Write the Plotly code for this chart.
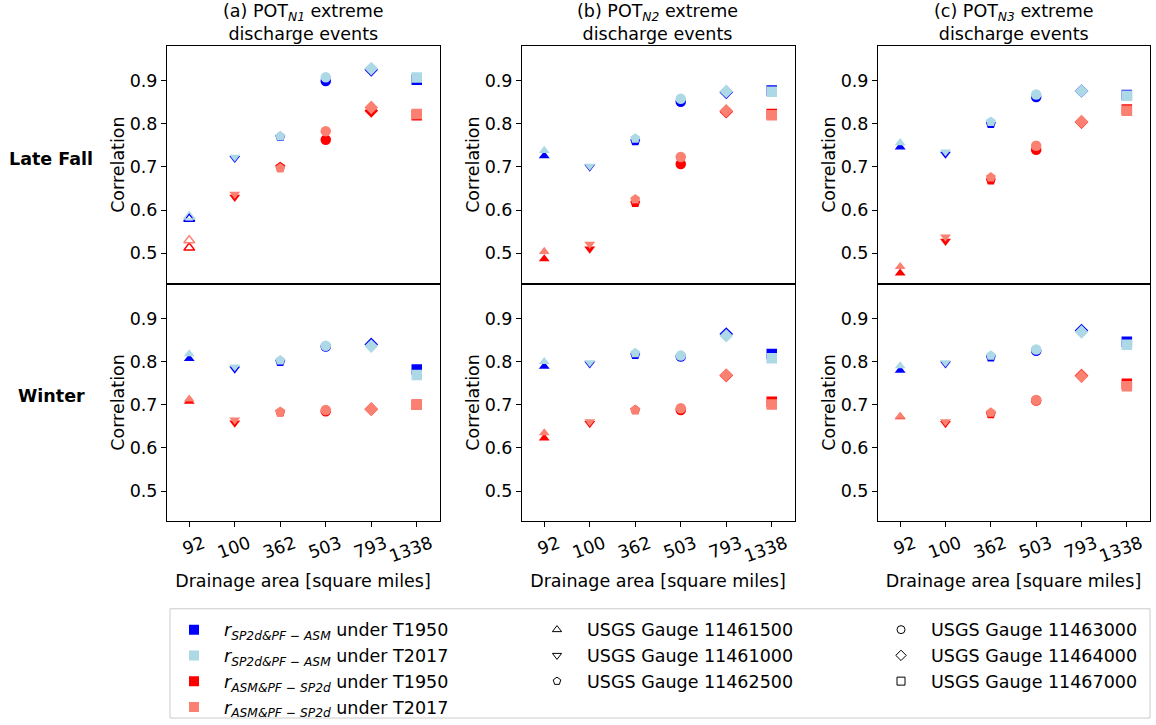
import plotly.graph_objects as go

W, H = 1156, 725

# ---------------- data ----------------
categories = ["92", "100", "362", "503", "793", "1338"]
gauge_ids = ["11461500", "11461000", "11462500", "11463000", "11464000", "11467000"]
gauge_symbols = ["triangle-up", "triangle-down", "pentagon", "circle", "diamond", "square"]
seasons = ["Late Fall", "Winter"]
events = ["N1", "N2", "N3"]
panel_letters = ["a", "b", "c"]
yticks = [0.5, 0.6, 0.7, 0.8, 0.9]

# POT_N1 - Late Fall
n1_fall_sp_t1950 = [0.580, 0.720, 0.770, 0.899, 0.925, 0.902]
n1_fall_sp_t2017 = [0.585, 0.723, 0.771, 0.908, 0.928, 0.907]
n1_fall_asm_t1950 = [0.513, 0.630, 0.700, 0.763, 0.830, 0.820]
n1_fall_asm_t2017 = [0.530, 0.637, 0.697, 0.783, 0.838, 0.823]
n1_fall_hollow = [1, 0, 0, 0, 0, 0]
# POT_N1 - Winter
n1_winter_sp_t1950 = [0.807, 0.783, 0.800, 0.835, 0.840, 0.782]
n1_winter_sp_t2017 = [0.818, 0.788, 0.803, 0.837, 0.836, 0.769]
n1_winter_asm_t1950 = [0.708, 0.658, 0.683, 0.685, 0.690, 0.700]
n1_winter_asm_t2017 = [0.713, 0.665, 0.684, 0.688, 0.690, 0.700]
n1_winter_hollow = [0, 0, 0, 0, 0, 0]
# POT_N2 - Late Fall
n2_fall_sp_t1950 = [0.726, 0.700, 0.760, 0.851, 0.873, 0.877]
n2_fall_sp_t2017 = [0.738, 0.702, 0.766, 0.858, 0.875, 0.874]
n2_fall_asm_t1950 = [0.487, 0.510, 0.617, 0.707, 0.828, 0.823]
n2_fall_asm_t2017 = [0.504, 0.521, 0.625, 0.723, 0.830, 0.820]
n2_fall_hollow = [0, 0, 0, 0, 0, 0]
# POT_N2 - Winter
n2_winter_sp_t1950 = [0.789, 0.795, 0.816, 0.812, 0.864, 0.818]
n2_winter_sp_t2017 = [0.800, 0.798, 0.820, 0.814, 0.860, 0.808]
n2_winter_asm_t1950 = [0.623, 0.657, 0.688, 0.688, 0.768, 0.707]
n2_winter_asm_t2017 = [0.635, 0.661, 0.688, 0.692, 0.769, 0.701]
n2_winter_hollow = [0, 0, 0, 0, 0, 0]
# POT_N3 - Late Fall
n3_fall_sp_t1950 = [0.746, 0.730, 0.800, 0.862, 0.876, 0.867]
n3_fall_sp_t2017 = [0.756, 0.735, 0.805, 0.868, 0.876, 0.865]
n3_fall_asm_t1950 = [0.454, 0.528, 0.669, 0.740, 0.804, 0.833]
n3_fall_asm_t2017 = [0.469, 0.538, 0.676, 0.749, 0.805, 0.830]
n3_fall_hollow = [0, 0, 0, 0, 0, 0]
# POT_N3 - Winter
n3_winter_sp_t1950 = [0.780, 0.795, 0.810, 0.825, 0.872, 0.846]
n3_winter_sp_t2017 = [0.790, 0.798, 0.814, 0.828, 0.869, 0.839]
n3_winter_asm_t1950 = [0.672, 0.657, 0.679, 0.710, 0.768, 0.749]
n3_winter_asm_t2017 = [0.673, 0.661, 0.682, 0.711, 0.766, 0.743]
n3_winter_hollow = [0, 0, 0, 0, 0, 0]

series_labels = [
    "<i>r</i><sub><i>SP2d&amp;PF − ASM</i></sub> under T1950",
    "<i>r</i><sub><i>SP2d&amp;PF − ASM</i></sub> under T2017",
    "<i>r</i><sub><i>ASM&amp;PF − SP2d</i></sub> under T1950",
    "<i>r</i><sub><i>ASM&amp;PF − SP2d</i></sub> under T2017",
]
series_colors = ["#0000ff", "#add8e6", "#ff0000", "#fa8072"]

panels = {
    (0, 0): ([n1_fall_sp_t1950, n1_fall_sp_t2017, n1_fall_asm_t1950, n1_fall_asm_t2017], n1_fall_hollow),
    (1, 0): ([n1_winter_sp_t1950, n1_winter_sp_t2017, n1_winter_asm_t1950, n1_winter_asm_t2017], n1_winter_hollow),
    (0, 1): ([n2_fall_sp_t1950, n2_fall_sp_t2017, n2_fall_asm_t1950, n2_fall_asm_t2017], n2_fall_hollow),
    (1, 1): ([n2_winter_sp_t1950, n2_winter_sp_t2017, n2_winter_asm_t1950, n2_winter_asm_t2017], n2_winter_hollow),
    (0, 2): ([n3_fall_sp_t1950, n3_fall_sp_t2017, n3_fall_asm_t1950, n3_fall_asm_t2017], n3_fall_hollow),
    (1, 2): ([n3_winter_sp_t1950, n3_winter_sp_t2017, n3_winter_asm_t1950, n3_winter_asm_t2017], n3_winter_hollow),
}

# ---------------- layout geometry (pixels) ----------------
col_px = [(166.5, 439.5), (521.5, 794.5), (877.5, 1149.5)]
row_px = [(46, 285.5), (285.5, 525)]
FONT = "DejaVu Sans"
FS = 17.5
sym_size = {"triangle-up": 9.5, "triangle-down": 9.5, "pentagon": 10.5,
            "circle": 10.5, "diamond": 10.5, "square": 10.5}


def px_x(p):
    return p / W


def px_y(p):
    return 1 - p / H


fig = go.Figure()

# legend-only entries
for lbl, col in zip(series_labels, series_colors):
    fig.add_trace(go.Scatter(x=[None], y=[None], mode="markers", name=lbl,
                             marker=dict(symbol="square", size=10, color=col, opacity=1),
                             legend="legend", showlegend=True))
for i, (gid, sym) in enumerate(zip(gauge_ids, gauge_symbols)):
    fig.add_trace(go.Scatter(x=[None], y=[None], mode="markers", name="USGS Gauge " + gid,
                             marker=dict(symbol=sym + "-open", size=8, color="black", opacity=1,
                                         line=dict(width=1, color="black")),
                             legend="legend2" if i in (0, 1, 2) else "legend3",
                             showlegend=True))

# data traces
for (r, c), (series, hollow) in panels.items():
    k = r * 3 + c + 1
    xname = "x" if k == 1 else f"x{k}"
    yname = "y" if k == 1 else f"y{k}"
    symbols = [s + ("-open" if h else "") for s, h in zip(gauge_symbols, hollow)]
    sizes = [sym_size[s] for s in gauge_symbols]
    lw = [1.5 if h else 0 for h in hollow]
    for vals, col, lbl in zip(series, series_colors, series_labels):
        fig.add_trace(go.Scatter(
            x=categories, y=vals, mode="markers", xaxis=xname, yaxis=yname,
            showlegend=False, name=lbl,
            marker=dict(symbol=symbols, size=sizes, color=col, opacity=1,
                        line=dict(width=lw, color=col)),
            hovertext=[f"USGS Gauge {g}" for g in gauge_ids],
        ))

layout = dict(
    width=W, height=H, template="none", autosize=False,
    margin=dict(l=0, r=0, t=0, b=0, pad=0),
    paper_bgcolor="white", plot_bgcolor="white",
    font=dict(family=FONT, size=FS, color="black"),
    showlegend=True,
)

for r in range(2):
    for c in range(3):
        k = r * 3 + c + 1
        xa = "xaxis" if k == 1 else f"xaxis{k}"
        ya = "yaxis" if k == 1 else f"yaxis{k}"
        xname = "x" if k == 1 else f"x{k}"
        yname = "y" if k == 1 else f"y{k}"
        x0, x1 = col_px[c]
        y0, y1 = row_px[r]
        xdict = dict(
            domain=[px_x(x0), px_x(x1)], anchor=yname, type="category",
            categoryorder="array", categoryarray=categories,
            range=[-0.5, 5.5], showgrid=False, zeroline=False,
            showline=True, mirror=True, linecolor="black", linewidth=1,
            automargin=False, fixedrange=True,
        )
        if r == 1:
            xdict.update(ticks="outside", ticklen=4.5, tickwidth=1, tickcolor="black",
                         showticklabels=True, tickangle=-20, ticklabelshift=14,
                         tickfont=dict(size=FS),
                         title=dict(text="Drainage area [square miles]",
                                    font=dict(size=FS), standoff=9))
        else:
            xdict.update(ticks="", showticklabels=False)
        layout[xa] = xdict
        layout[ya] = dict(
            domain=[px_y(y1), px_y(y0)], anchor=xname,
            range=[0.43, 0.981], tickvals=yticks,
            ticktext=[f"{v:.1f}" for v in yticks],
            ticks="outside", ticklen=4.5, tickwidth=1, tickcolor="black",
            showgrid=False, zeroline=False,
            showline=True, mirror=True, linecolor="black", linewidth=1,
            tickfont=dict(size=FS), automargin=False, fixedrange=True,
            title=dict(text="Correlation", font=dict(size=FS), standoff=0),
        )

# legends (three columns)
leg_common = dict(orientation="v", xanchor="left", yanchor="top",
                  bgcolor="rgba(0,0,0,0)", borderwidth=0,
                  font=dict(family=FONT, size=FS, color="black"),
                  itemwidth=50, traceorder="normal", itemclick=False,
                  itemdoubleclick=False)
layout["legend"] = dict(leg_common, x=px_x(164), y=px_y(616))
layout["legend2"] = dict(leg_common, x=px_x(527), y=px_y(616))
layout["legend3"] = dict(leg_common, x=px_x(871), y=px_y(616))

fig.update_layout(**layout)

# legend frame
fig.add_shape(type="rect", xref="paper", yref="paper",
              x0=px_x(170), x1=px_x(1150), y0=px_y(723), y1=px_y(613),
              line=dict(color="#cccccc", width=1), fillcolor="rgba(0,0,0,0)", layer="below")

# column titles
for c in range(3):
    xc = (col_px[c][0] + col_px[c][1]) / 2
    fig.add_annotation(
        x=px_x(xc), y=px_y(23), xref="paper", yref="paper",
        text=f"({panel_letters[c]}) POT<sub><i>{events[c]}</i></sub> extreme<br>discharge events",
        showarrow=False, xanchor="center", yanchor="middle",
        font=dict(family=FONT, size=FS, color="black"),
    )

# row labels
for r, (s, yc) in enumerate(zip(seasons, [160, 399])):
    fig.add_annotation(
        x=px_x(51), y=px_y(yc), xref="paper", yref="paper",
        text=f"<b>{s}</b>", showarrow=False, xanchor="center", yanchor="middle",
        font=dict(family=FONT, size=FS, color="black"),
    )

fig.write_html("out.html")
